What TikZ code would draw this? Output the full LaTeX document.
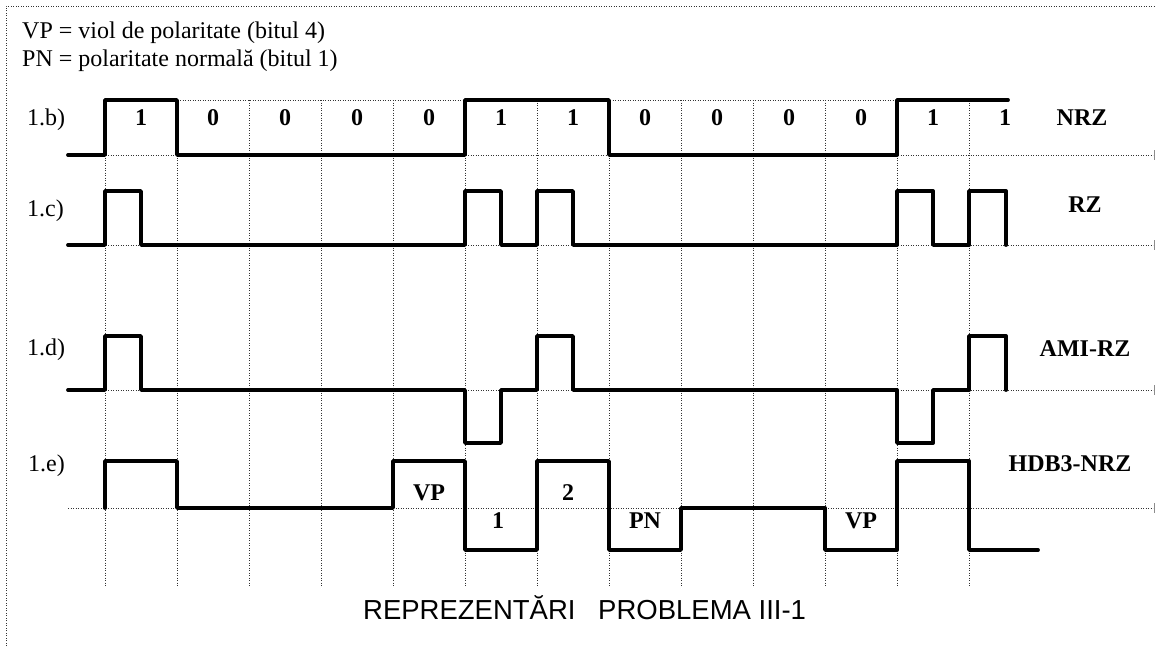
\documentclass[tikz,border=0pt]{standalone}
\usepackage{fontspec}
\setmainfont{Liberation Serif}
\newfontfamily\titlefont{Liberation Sans}
\begin{document}
\begin{tikzpicture}[x=1pt,y=-1pt,
  sig/.style={line width=3.8pt,line join=round,line cap=round},
  grid/.style={line width=0.8pt,dash pattern=on 0.9pt off 1.6pt,black!80},
  frame/.style={line width=0.8pt,dash pattern=on 0.9pt off 1.6pt,black!80},
  tick/.style={line width=0.9pt,black!45},
  hdr/.style={font=\fontsize{24}{29}\selectfont,anchor=base west,inner sep=0pt},
  rowlbl/.style={font=\fontsize{24}{29}\selectfont,anchor=base west,inner sep=0pt},
  bitlbl/.style={font=\fontsize{24}{29}\selectfont\bfseries,anchor=base,inner sep=0pt},
  codename/.style={font=\fontsize{24}{29}\selectfont\bfseries,anchor=base,inner sep=0pt},
  ttl/.style={font=\titlefont\fontsize{27.5}{33}\selectfont,anchor=base west,inner sep=0pt}
]
\useasboundingbox (0,0) rectangle (1155,646);
% frame
\draw[frame] (6,646) -- (6,6) -- (1155,6);
% vertical grid lines
\foreach \k in {0,...,12} {
  \draw[grid] ({105+72*\k},100) -- ({105+72*\k},587);
}
% horizontal dotted lines
\draw[grid] (105,100) -- (897,100);
\foreach \yy in {155,245,390,508} {
  \draw[grid] (68,\yy) -- (1153,\yy);
  \draw[tick] (1154,\yy-5) -- (1154,\yy+5);
}
% header
\node[hdr] (h1) at (22,38.5) {VP = viol de polaritate (bitul 4)};
\node[hdr] (h2) at (22,66.5) {PN = polaritate normală (bitul 1)};
% NRZ
\node[rowlbl] (lb) at (27,125) {1.b)};
\draw[sig] (68,155) -- (105,155) -- (105,100) -- (177,100) -- (177,155) -- (465,155) -- (465,100) -- (609,100) -- (609,155) -- (897,155) -- (897,100) -- (1008,100);
\foreach \b [count=\i from 0] in {1,0,0,0,0,1,1,0,0,0,0,1,1} {
  \node[bitlbl] (bit\i) at ({141+72*\i},125) {\b};
}
\node[codename] (nrz) at (1082,125) {NRZ};
% RZ
\node[rowlbl] (lc) at (27,216) {1.c)};
\draw[sig] (68,245) -- (105,245) -- (105,191) -- (141,191) -- (141,245) -- (465,245) -- (465,191) -- (501,191) -- (501,245) -- (537,245) -- (537,191) -- (573,191) -- (573,245) -- (897,245) -- (897,191) -- (933,191) -- (933,245) -- (969,245) -- (969,191) -- (1006,191) -- (1006,245);
\node[codename] (rz) at (1085,212) {RZ};
% AMI-RZ
\node[rowlbl] (ld) at (27,355) {1.d)};
\draw[sig] (68,390) -- (105,390) -- (105,336) -- (141,336) -- (141,390) -- (465,390) -- (465,443) -- (501,443) -- (501,390) -- (537,390) -- (537,336) -- (573,336) -- (573,390) -- (897,390) -- (897,443) -- (933,443) -- (933,390) -- (969,390) -- (969,336) -- (1006,336) -- (1006,390);
\node[codename] (ami) at (1085,356) {AMI-RZ};
% HDB3-NRZ
\node[rowlbl] (le) at (28,471) {1.e)};
\draw[sig] (105,508) -- (105,461) -- (177,461) -- (177,508) -- (393,508) -- (393,461) -- (465,461) -- (465,550) -- (537,550) -- (537,461) -- (609,461) -- (609,550) -- (681,550) -- (681,508) -- (825,508) -- (825,550) -- (897,550) -- (897,461) -- (969,461) -- (969,550) -- (1038,550);
\node[codename] (hdb) at (1070,471) {HDB3-NRZ};
\node[bitlbl] (vp1) at (429,500) {VP};
\node[bitlbl] (one) at (498,528) {1};
\node[bitlbl] (two) at (568,500) {2};
\node[bitlbl] (pn) at (645,528) {PN};
\node[bitlbl] (vp2) at (861,528) {VP};
% title
\node[ttl] (t1) at (363,619) {REPREZENTĂRI};
\node[ttl] (t2) at (598,619) {PROBLEMA III-1};
\end{tikzpicture}
\end{document}
